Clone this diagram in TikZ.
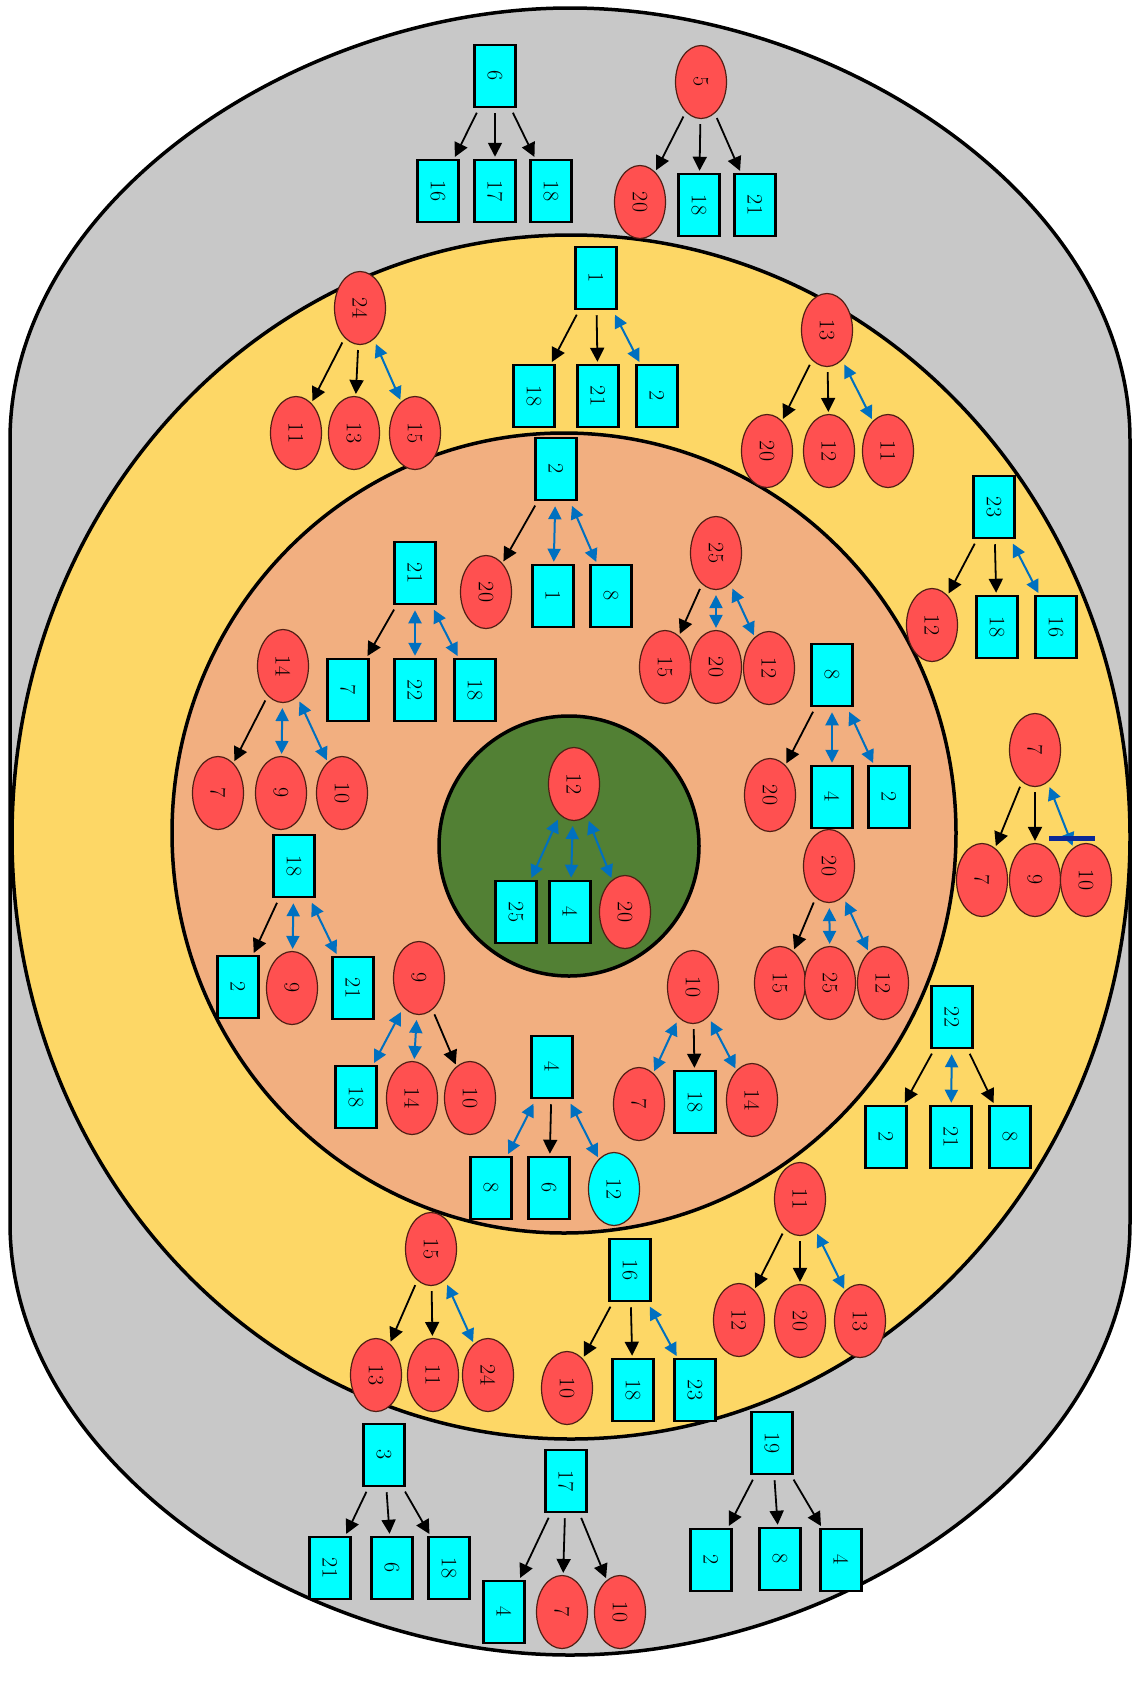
\documentclass[tikz,border=0pt]{standalone}
\usepackage{tikz}
\usetikzlibrary{arrows.meta,shapes.geometric}
\definecolor{shell}{RGB}{200,200,200}
\definecolor{band}{RGB}{253,215,102}
\definecolor{zone}{RGB}{242,175,128}
\definecolor{core}{RGB}{82,128,52}
\definecolor{hub}{RGB}{255,80,80}
\definecolor{leaf}{RGB}{0,255,255}
\definecolor{dblue}{RGB}{0,112,192}
\definecolor{rim}{RGB}{80,30,20}
\definecolor{navybar}{RGB}{10,40,150}
\tikzset{
  ring/.style={draw, line width=3.5pt, fill=#1},
  sq/.style={rectangle, draw, line width=2.5pt, fill=leaf, minimum width=62pt, minimum height=41pt, inner sep=0pt, rotate=-90, font=\fontsize{22}{24}\selectfont},
  rd/.style={ellipse, draw=rim, line width=1.2pt, fill=#1, minimum width=73pt, minimum height=51pt, inner sep=0pt, rotate=-90, font=\fontsize{22}{24}\selectfont},
  rd/.default=hub,
  tie/.style={-{Triangle[length=14pt,width=14pt]}, line width=1.8pt, shorten <=5pt, shorten >=2pt},
  link/.style={{Triangle[length=13pt,width=13pt]}-{Triangle[length=13pt,width=13pt]}, line width=2pt, dblue, shorten <=5pt, shorten >=2pt},
}
\begin{document}
\begin{tikzpicture}[x=1pt,y=-1pt]
  \useasboundingbox (0,0) rectangle (1136,1684);
  % rings
  \draw[ring=shell] (10,440) .. controls (10,200) and (300,8) .. (570,8)
    .. controls (840,8) and (1130,200) .. (1130,440) -- (1130,1223)
    .. controls (1130,1463) and (840,1655) .. (570,1655)
    .. controls (300,1655) and (10,1463) .. (10,1223) -- cycle;
  \draw[ring=band] (571,837) ellipse[x radius=559pt, y radius=602pt];
  \draw[ring=zone] (564,833) ellipse[x radius=392pt, y radius=400pt];
  \draw[ring=core] (569,846) circle[radius=130pt];
  % box nodes
  \foreach \n/\x/\y/\t in {g6/495/76/6, g6a/438/191/16, g6b/495/191/17, g6c/551/191/18,
      g5b/699/205/18, g5c/755/205/21, y1/596/278/1, y1a/534/396/18, y1b/598/396/21, y1c/657/396/2,
      y23/994/507/23, y23b/997/627/18, y23c/1056/627/16, y22/952/1017/22, y22a/886/1137/2,
      y22b/951/1137/21, y22c/1010/1137/8, y16/630/1270/16, y16b/633/1390/18, y16c/695/1390/23,
      o2/556/469/2, o2b/553/596/1, o2c/611/596/8, o21/415/573/21, o21a/348/690/7, o21b/415/690/22,
      o21c/475/690/18, o8/832/675/8, o8b/832/797/4, o8c/889/797/2, o18/294/866/18, o18a/238/987/2,
      o18c/353/988/21, o9a/356/1097/18, o10b/695/1102/18, o4/552/1067/4, o4a/491/1188/8,
      o4b/549/1188/6, c12a/516/912/25, c12b/570/912/4, g3/384/1455/3, g3a/330/1568/21,
      g3b/392/1568/6, g3c/449/1568/18, g17/566/1481/17, g17a/504/1612/4, g19/772/1443/19,
      g19a/711/1560/2, g19b/780/1559/8, g19c/841/1560/4}
    { \node[sq] (\n) at (\x,\y) {\t}; }
  % ellipse nodes
  \foreach \n/\x/\y/\t in {g5/701/82/5, g5a/640/202/20, y24/360/308/24, y24a/296/433/11,
      y24b/354/433/13, y24c/415/433/15, y13/827/330/13, y13a/767/451/20, y13b/829/451/12,
      y13c/888/451/11, y23a/932/625/12, y7/1035/750/7, y7a/982/880/7, y7b/1035/880/9,
      y7c/1086/880/10, y11/800/1199/11, y11a/739/1320/12, y11b/800/1321/20, y11c/860/1321/13,
      y15/431/1249/15, y15a/376/1375/13, y15b/433/1375/11, y15c/488/1375/24, y16a/567/1388/10,
      o2a/486/592/20, o25/716/553/25, o25a/665/667/15, o25b/716/667/20, o25c/769/668/12,
      o14/283/666/14, o14a/218/793/7, o14b/281/793/9, o14c/342/793/10, o8a/770/795/20,
      o18b/292/988/9, o20/829/866/20, o20a/780/983/15, o20b/830/983/25, o20c/883/983/12,
      o9/419/978/9, o9b/412/1098/14, o9c/470/1098/10, o10/693/987/10, o10a/639/1104/7,
      o10c/752/1100/14, c12/574/784/12, c12c/625/912/20, g17b/562/1612/7, g17c/620/1612/10}
    { \node[rd] (\n) at (\x,\y) {\t}; }
  \node[rd=leaf] (o4c) at (614,1189) {12};
  % edges
  \foreach \a/\b in {g6/g6a, g6/g6b, g6/g6c, g5/g5a, g5/g5b, g5/g5c, y1/y1a, y1/y1b,
      y24/y24a, y24/y24b, y13/y13a, y13/y13b, y23/y23a, y23/y23b, y7/y7a, y7/y7b,
      y22/y22a, y22/y22c, y11/y11a, y11/y11b, y15/y15a, y15/y15b, y16/y16a, y16/y16b,
      o2/o2a, o21/o21a, o25/o25a, o14/o14a, o8/o8a, o18/o18a, o20/o20a, o9/o9c, o10/o10b,
      o4/o4b, g3/g3a, g3/g3b, g3/g3c, g17/g17a, g17/g17b, g17/g17c, g19/g19a, g19/g19b, g19/g19c}
    { \draw[tie] (\a) -- (\b); }
  \foreach \a/\b in {y1/y1c, y24/y24c, y13/y13c, y23/y23c, y7/y7c, y22/y22b, y11/y11c,
      y15/y15c, y16/y16c, o2/o2b, o2/o2c, o21/o21b, o21/o21c, o25/o25b, o25/o25c, o14/o14b,
      o14/o14c, o8/o8b, o8/o8c, o18/o18b, o18/o18c, o20/o20b, o20/o20c, o9/o9a, o9/o9b,
      o10/o10a, o10/o10c, o4/o4a, o4/o4c, c12/c12a, c12/c12b, c12/c12c}
    { \draw[link] (\a) -- (\b); }
  \draw[navybar, line width=5pt] (1049,838) -- (1095,838);
\end{tikzpicture}
\end{document}
